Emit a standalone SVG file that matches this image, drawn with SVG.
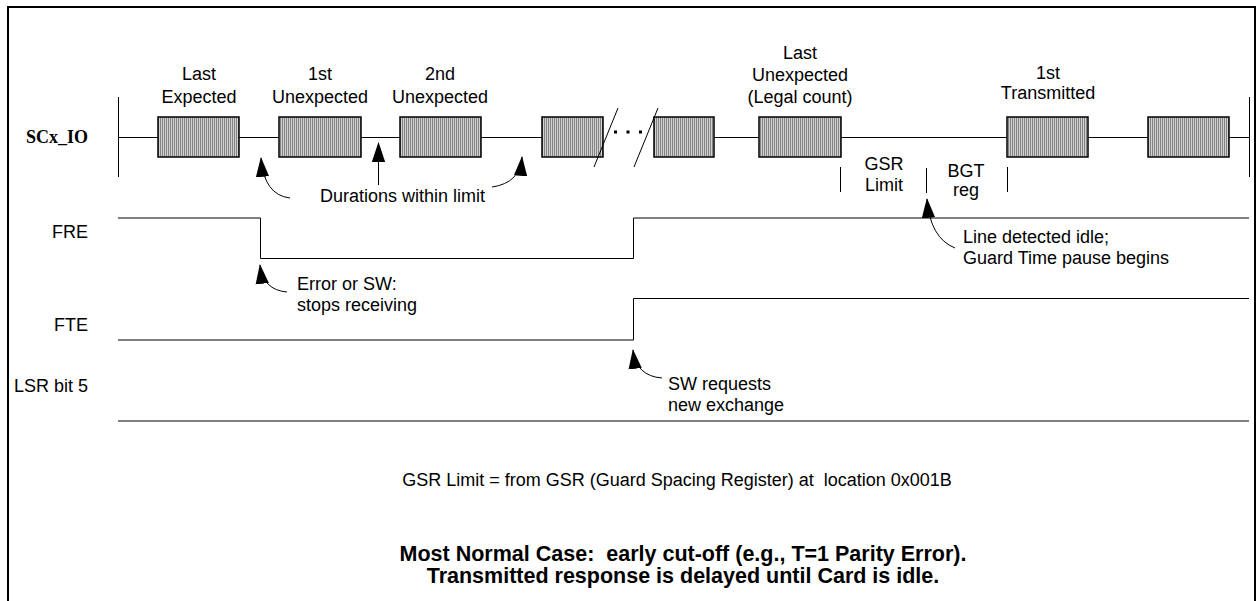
<svg xmlns="http://www.w3.org/2000/svg" width="1258" height="601" viewBox="0 0 1258 601">
<style>
.t{font-family:"Liberation Sans",Arial,Helvetica,sans-serif;font-size:18px;fill:#000;white-space:pre}
.c{text-anchor:middle}
.r{text-anchor:end}
.b{font-weight:bold;font-size:21.5px}
.sig{stroke:#000;stroke-width:1;fill:none}
.box{fill:url(#hatch);stroke:#000;stroke-width:1.5}
.arr{stroke:#000;stroke-width:1;fill:none;marker-end:url(#ah)}
.tick{stroke:#000;stroke-width:1}
</style>
<defs>
<pattern id="hatch" width="2" height="10" patternUnits="userSpaceOnUse">
<rect width="2" height="10" fill="#d2d2d2"/>
<rect width="1" height="10" fill="#828282"/>
</pattern>
<marker id="ah" markerUnits="userSpaceOnUse" markerWidth="20" markerHeight="14" viewBox="0 0 18 12" refX="17" refY="6" orient="auto">
<path d="M0,0 L18,6 L0,12 z" fill="#000"/>
</marker>
</defs>
<rect x="0" y="0" width="1258" height="601" fill="#fff"/>
<rect x="8" y="7" width="1247" height="610" fill="none" stroke="#000" stroke-width="2"/>

<g id="scx-io">
<text class="t r" x="88" y="143" style="font-family:'Liberation Serif','Times New Roman',serif;font-weight:bold;font-size:18px">SCx_IO</text>
<line class="tick" x1="118.5" y1="97" x2="118.5" y2="177"/>
<line class="tick" x1="1249.5" y1="97" x2="1249.5" y2="177"/>
<line class="sig" x1="118" y1="137.5" x2="603" y2="137.5"/>
<line class="sig" x1="654" y1="137.5" x2="1249" y2="137.5"/>
</g>

<g id="box1"><rect class="box" x="158" y="117" width="81" height="40"/>
<text class="t c" x="199" y="80">Last</text><text class="t c" x="199" y="103">Expected</text></g>
<g id="box2"><rect class="box" x="279" y="117" width="82" height="40"/>
<text class="t c" x="320" y="80">1st</text><text class="t c" x="320" y="103">Unexpected</text></g>
<g id="box3"><rect class="box" x="400" y="117" width="81" height="40"/>
<text class="t c" x="440" y="80">2nd</text><text class="t c" x="440" y="103">Unexpected</text></g>
<g id="box4"><rect class="box" x="542" y="117" width="61" height="40"/></g>
<g id="box5"><rect class="box" x="654" y="117" width="60" height="40"/></g>
<g id="break">
<line class="tick" x1="594" y1="167" x2="618" y2="108"/>
<line class="tick" x1="634" y1="167" x2="658" y2="108"/>
<rect x="614" y="130.5" width="3" height="3" fill="#000"/>
<rect x="626.5" y="130.5" width="3" height="3" fill="#000"/>
<rect x="639" y="130.5" width="3" height="3" fill="#000"/>
</g>
<g id="box6"><rect class="box" x="759" y="117" width="82" height="40"/>
<text class="t c" x="800" y="59">Last</text><text class="t c" x="800" y="81">Unexpected</text><text class="t c" x="800" y="103">(Legal count)</text></g>
<g id="box7"><rect class="box" x="1007" y="117" width="81" height="40"/>
<text class="t c" x="1048" y="79">1st</text><text class="t c" x="1048" y="99">Transmitted</text></g>
<g id="box8"><rect class="box" x="1148" y="117" width="81" height="40"/></g>

<g id="gsr-limit">
<line class="tick" x1="840.5" y1="167" x2="840.5" y2="192"/>
<line class="tick" x1="926.5" y1="168" x2="926.5" y2="193"/>
<line class="tick" x1="1007.5" y1="167" x2="1007.5" y2="192"/>
<text class="t c" x="884" y="170">GSR</text><text class="t c" x="884" y="191">Limit</text>
<text class="t c" x="966" y="177">BGT</text><text class="t c" x="966" y="196">reg</text>
</g>

<g id="fre">
<text class="t r" x="88" y="238">FRE</text>
<polyline class="sig" points="118,218 260.5,218 260.5,258.5 633.5,258.5 633.5,218 1249,218"/>
</g>
<g id="fte">
<text class="t r" x="88" y="331">FTE</text>
<polyline class="sig" points="118,340 633.5,340 633.5,298.5 1249,298.5"/>
</g>
<g id="lsr">
<text class="t r" x="88" y="392">LSR bit 5</text>
<line class="sig" x1="118" y1="421" x2="1249" y2="421"/>
</g>

<g id="notes">
<text class="t" x="320" y="202">Durations within limit</text>
<text class="t" x="297" y="290">Error or SW:</text>
<text class="t" x="297" y="311">stops receiving</text>
<text class="t" x="963" y="243">Line detected idle;</text>
<text class="t" x="963" y="264">Guard Time pause begins</text>
<text class="t" x="668" y="390">SW requests</text>
<text class="t" x="668" y="411">new exchange</text>
<text class="t c" x="677" y="486">GSR Limit = from GSR (Guard Spacing Register) at  location 0x001B</text>
<text class="t c b" x="683" y="561">Most Normal Case:  early cut-off (e.g., T=1 Parity Error).</text>
<text class="t c b" x="683" y="583">Transmitted response is delayed until Card is idle.</text>
</g>

<g id="connectors">
<path class="arr" d="M290,198 Q264,195 261,158"/>
<path class="arr" d="M378.5,185 L378.5,143"/>
<path class="arr" d="M492,187 Q520,183 522,157"/>
<path class="arr" d="M287,292 Q263,290 260,265"/>
<path class="arr" d="M955,248 Q930,238 927,199"/>
<path class="arr" d="M662,378 Q636,376 633,350"/>
</g>
</svg>
